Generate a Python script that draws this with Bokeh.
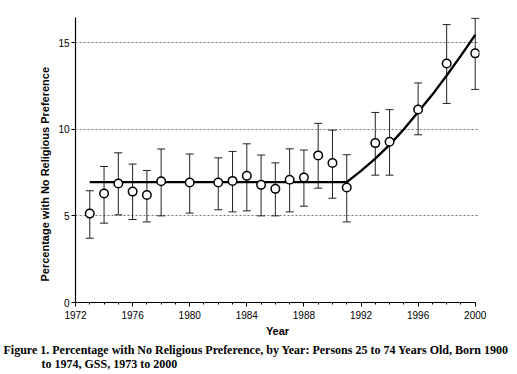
from bokeh.plotting import figure
from bokeh.models import Range1d, SingleIntervalTicker, FixedTicker, Title
from bokeh.embed import file_html
from bokeh.resources import INLINE

# ---- data ----
years = [1973, 1974, 1975, 1976, 1977, 1978, 1980, 1982, 1983, 1984, 1985,
         1986, 1987, 1988, 1989, 1990, 1991, 1993, 1994, 1996, 1998, 2000]
pct = [5.13, 6.29, 6.87, 6.40, 6.20, 7.00, 6.93, 6.93, 7.02, 7.31, 6.79,
       6.56, 7.08, 7.21, 8.49, 8.05, 6.64, 9.20, 9.28, 11.14, 13.80, 14.38]
upper = [6.45, 7.85, 8.64, 7.99, 7.62, 8.86, 8.57, 8.35, 8.72, 9.16, 8.51,
         8.06, 8.87, 8.80, 10.34, 9.95, 8.53, 10.97, 11.13, 12.67, 16.04, 16.40]
lower = [3.71, 4.58, 5.06, 4.79, 4.65, 5.00, 5.16, 5.35, 5.23, 5.29, 5.00,
         5.00, 5.23, 5.56, 6.60, 6.02, 4.65, 7.35, 7.35, 9.68, 11.49, 12.30]

fit_years = [1973, 1991, 1992, 1993, 1994, 1995, 1996, 1997, 1998, 1999, 2000]
fit_vals = [6.95, 6.95, 7.60, 8.30, 9.10, 10.00, 11.00, 12.00, 13.10, 14.25, 15.45]

y_ticks = [0, 5, 10, 15]
grid_ticks = [5, 10, 15]

x_label = "Year"
y_label = "Percentage with No Religious Preference"
caption1 = "Figure 1. Percentage with No Religious Preference, by Year: Persons 25 to 74 Years Old, Born 1900"
caption2 = "to 1974, GSS, 1973 to 2000"

SANS = "Liberation Sans"
SERIF = "Liberation Serif"

p = figure(width=517, height=374, output_backend="svg", toolbar_location=None,
           x_range=Range1d(1972, 2000.3), y_range=Range1d(0, 16.45),
           min_border_left=75, min_border_right=38, min_border_top=17,
           min_border_bottom=72)
p.outline_line_color = None
p.background_fill_color = "white"
p.border_fill_color = "white"

# grid
p.xgrid.grid_line_color = None
p.ygrid.ticker = FixedTicker(ticks=grid_ticks)
p.ygrid.grid_line_color = "#777777"
p.ygrid.grid_line_dash = "2 2"
p.ygrid.grid_line_width = 1

# x axis
xa = p.xaxis[0]
xa.ticker = SingleIntervalTicker(interval=4, num_minor_ticks=4)
xa.bounds = (1972, 2000)
xa.axis_line_color = "black"
xa.axis_line_width = 1.2
xa.major_tick_in = 0
xa.major_tick_out = 4
xa.minor_tick_in = 0
xa.minor_tick_out = 2
xa.major_label_text_font = SANS
xa.major_label_text_font_size = "10px"
xa.major_label_text_color = "black"
xa.major_label_standoff = 4
xa.axis_label = x_label
xa.axis_label_text_font = SANS
xa.axis_label_text_font_style = "bold"
xa.axis_label_text_font_size = "11px"
xa.axis_label_text_color = "black"
xa.axis_label_standoff = 3

# y axis
ya = p.yaxis[0]
ya.ticker = FixedTicker(ticks=y_ticks)
ya.axis_line_color = "black"
ya.axis_line_width = 1.2
ya.major_tick_in = 0
ya.major_tick_out = 4
ya.minor_tick_line_color = None
ya.major_label_text_font = SANS
ya.major_label_text_font_size = "10px"
ya.major_label_text_color = "black"
ya.major_label_standoff = 2

# error bars
p.segment(x0=years, y0=lower, x1=years, y1=upper, line_color="#222222", line_width=1)
p.scatter(x=years, y=upper, marker="dash", size=8, line_color="#222222", line_width=1)
p.scatter(x=years, y=lower, marker="dash", size=8, line_color="#222222", line_width=1)

# fitted line
p.line(x=fit_years, y=fit_vals, line_color="black", line_width=2.4)

# points
p.scatter(x=years, y=pct, marker="circle", size=8.5, fill_color="white",
          line_color="black", line_width=1.5)

# y-axis title (left-side title, offset from the bottom of the frame)
p.add_layout(Title(text=y_label, align="left", offset=21, standoff=10,
                   text_font=SANS, text_font_style="bold", text_font_size="11px",
                   text_color="black"), "left")

# caption below the plot
p.add_layout(Title(text=caption1, align="left", offset=-72, standoff=2,
                   text_font=SERIF, text_font_style="bold", text_font_size="12px",
                   text_color="black"), "below")
p.add_layout(Title(text=caption2, align="left", offset=-34, standoff=-6,
                   text_font=SERIF, text_font_style="bold", text_font_size="12px",
                   text_color="black"), "below")

open("out.html", "w").write(file_html(p, INLINE))
